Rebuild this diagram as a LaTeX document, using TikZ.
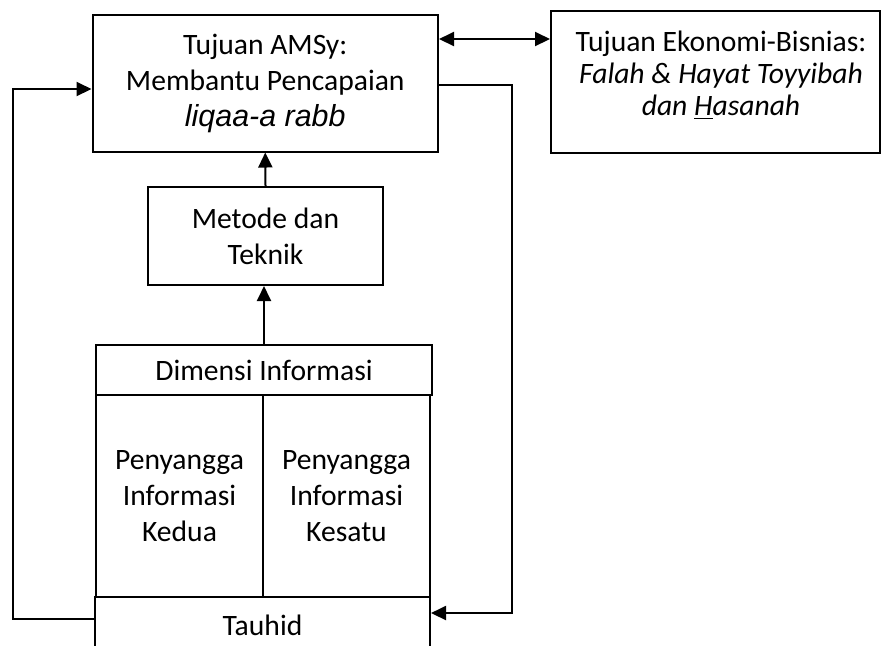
\documentclass[tikz,border=0pt]{standalone}
\usepackage{fontspec}
\setmainfont{Carlito}
\newfontfamily\arialfont{Liberation Sans}
\usetikzlibrary{arrows.meta,positioning}

\begin{document}
\begin{tikzpicture}[x=0.5pt,y=-0.5pt,font=\fontsize{14.8}{18}\selectfont,
  box/.style={draw,line width=1pt,fill=white,align=center,inner sep=0pt},
  conn/.style={line width=1pt,-{Triangle[length=7.5pt,width=7pt]}},
  twoway/.style={line width=1pt,{Triangle[length=7.5pt,width=7pt]}-{Triangle[length=7.5pt,width=7pt]}}]
  \useasboundingbox (0,0) rectangle (881,645);
  \clip (0,0) rectangle (881,645);

  \node[box,minimum width=172.75pt,minimum height=68.5pt] (goal) at (265.25,83)
    {Tujuan AMSy:\\ Membantu Pencapaian\\ {\arialfont\itshape\fontsize{15.2}{18}\selectfont liqaa-a rabb}};
  \node[box,minimum width=164.25pt,minimum height=71pt] (eco) at (715.25,82) {};
  \node[align=center,font=\fontsize{14.8}{16}\selectfont] (ecotext) at (721,75)
    {Tujuan Ekonomi-Bisnias:\\ \itshape Falah \& Hayat Toyyibah\\ \itshape dan \underline{H}asanah};
  \node[box,minimum width=117.5pt,minimum height=49pt] (metode) at (265.5,236) {Metode dan\\ Teknik};
  \node[box,minimum width=168pt,minimum height=25pt] (dimensi) at (264,370) {Dimensi Informasi};
  \node[box,minimum width=83.5pt,minimum height=101pt] (kedua) at (179.5,496) {Penyangga\\ Informasi\\ Kedua};
  \node[box,minimum width=83.5pt,minimum height=101pt] (kesatu) at (346.5,496) {Penyangga\\ Informasi\\ Kesatu};
  \node[box,minimum width=167.5pt,minimum height=28pt] (tauhid) at (262.5,625) {Tauhid};

  \coordinate (rightrail) at (512,300);
  \coordinate (leftrail) at (13,300);

  \draw[conn] (metode.north) -- (goal.south);
  \draw[conn] (dimensi.north) -- (dimensi.north |- metode.south);
  \draw[twoway] ([yshift=22pt]goal.east) -- ([yshift=22pt]goal.east -| eco.west);
  \draw[conn] ([yshift=-1pt]goal.east) -| (rightrail) |- ([yshift=6pt]tauhid.east);
  \draw[conn] ([yshift=3pt]tauhid.west) -| (leftrail) |- ([yshift=-3pt]goal.west);
\end{tikzpicture}
\end{document}
